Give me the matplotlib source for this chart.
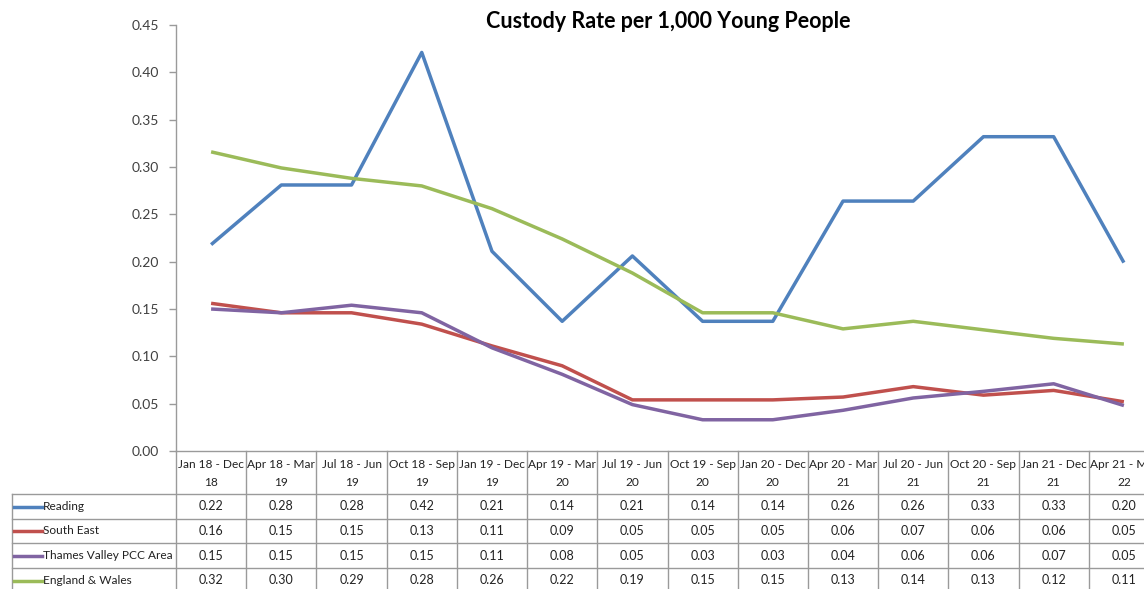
import matplotlib
matplotlib.use("Agg")
import matplotlib.pyplot as plt
from matplotlib.lines import Line2D
from matplotlib.transforms import blended_transform_factory
import numpy as np

categories = ["Jan 18 - Dec 18", "Apr 18 - Mar 19", "Jul 18 - Jun 19", "Oct 18 - Sep 19",
              "Jan 19 - Dec 19", "Apr 19 - Mar 20", "Jul 19 - Jun 20", "Oct 19 - Sep 20",
              "Jan 20 - Dec 20", "Apr 20 - Mar 21", "Jul 20 - Jun 21", "Oct 20 - Sep 21",
              "Jan 21 - Dec 21", "Apr 21 - Mar 22"]

reading = [0.218, 0.281, 0.281, 0.421, 0.211, 0.137, 0.206, 0.137, 0.137, 0.264, 0.264, 0.332, 0.332, 0.199]
south_east = [0.156, 0.146, 0.146, 0.134, 0.111, 0.090, 0.054, 0.054, 0.054, 0.057, 0.068, 0.059, 0.064, 0.052]
thames_valley = [0.150, 0.146, 0.154, 0.146, 0.109, 0.081, 0.049, 0.033, 0.033, 0.043, 0.056, 0.063, 0.071, 0.048]
england_wales = [0.316, 0.299, 0.288, 0.280, 0.256, 0.224, 0.188, 0.146, 0.146, 0.129, 0.137, 0.128, 0.119, 0.113]

series_names = ["Reading", "South East", "Thames Valley PCC Area", "England & Wales"]
series_values = [reading, south_east, thames_valley, england_wales]
series_colors = ["#4F81BD", "#C0504D", "#8064A2", "#9BBB59"]

title = "Custody Rate per 1,000 Young People"

W, H = 1144, 589
FONT = ["Lato", "DejaVu Sans"]
plt.rcParams["font.family"] = FONT

fig = plt.figure(figsize=(W / 100, H / 100), dpi=100)
fig.patch.set_facecolor("white")


def fy(py):
    return 1 - py / H


def fx(px):
    return px / W


ax_left, ax_right, ax_top, ax_bottom = 176, 1159, 25, 451
ax = fig.add_axes([fx(ax_left), fy(ax_bottom), (ax_right - ax_left) / W, (ax_bottom - ax_top) / H])
x = np.arange(len(categories))
for vals, col in zip(series_values, series_colors):
    ax.plot(x, vals, color=col, lw=2.5, solid_joinstyle="round", solid_capstyle="butt", zorder=3)

ax.set_xlim(-0.5, len(categories) - 0.5)
ax.set_ylim(0, 0.45)
ax.set_yticks(np.arange(0, 0.451, 0.05))
ax.set_yticklabels([f"{v:.2f}" for v in np.arange(0, 0.451, 0.05)])
ax.set_xticks([])
for s in ["top", "right"]:
    ax.spines[s].set_visible(False)
grey = "#9A9A9A"
for s in ["left", "bottom"]:
    ax.spines[s].set_color(grey)
    ax.spines[s].set_linewidth(1.0)
ax.tick_params(axis="y", direction="out", length=5, width=1, color=grey,
               labelsize=10, labelcolor="#404040", pad=7)

fig.text(fx(668), fy(21), title, ha="center", va="center", fontsize=15.5,
         fontweight="bold", color="#000000")

# ---- data table ----
tr = blended_transform_factory(ax.transData, fig.transFigure)
header_top, header_bot = 451, 494
row_edges = [494, 519, 543, 568, 593]
label_left = 12
tcol = "#222222"
lw_t = 1.0

# horizontal lines
for ry in row_edges[:-1]:
    fig.add_artist(Line2D([fx(label_left), 1.0], [fy(ry), fy(ry)], color=grey, lw=lw_t,
                          transform=fig.transFigure))
# left border of label column
fig.add_artist(Line2D([fx(label_left), fx(label_left)], [fy(row_edges[0]), fy(row_edges[-1])],
                      color=grey, lw=lw_t, transform=fig.transFigure))
# vertical column borders
for i in range(len(categories) + 1):
    fig.add_artist(Line2D([i - 0.5, i - 0.5], [fy(header_top), fy(row_edges[-1])], color=grey,
                          lw=lw_t, transform=tr))

# header labels
for i, c in enumerate(categories):
    top_line, bottom_line = c.rsplit(" ", 1)
    fig.text(i, fy(464), top_line, transform=tr, ha="center", va="center", fontsize=8.6, color=tcol)
    fig.text(i, fy(483), bottom_line, transform=tr, ha="center", va="center", fontsize=8.6, color=tcol)

# rows
for r, (name, vals, col) in enumerate(zip(series_names, series_values, series_colors)):
    yc = (row_edges[r] + row_edges[r + 1]) / 2
    fig.add_artist(Line2D([fx(14), fx(42)], [fy(yc), fy(yc)], color=col, lw=2.5,
                          transform=fig.transFigure))
    fig.text(fx(43), fy(yc), name, ha="left", va="center", fontsize=8.6, color=tcol)
    for i, v in enumerate(vals):
        fig.text(i, fy(yc), f"{v:.2f}", transform=tr, ha="center", va="center",
                 fontsize=9, color=tcol)

fig.savefig("out.png", dpi=100)
